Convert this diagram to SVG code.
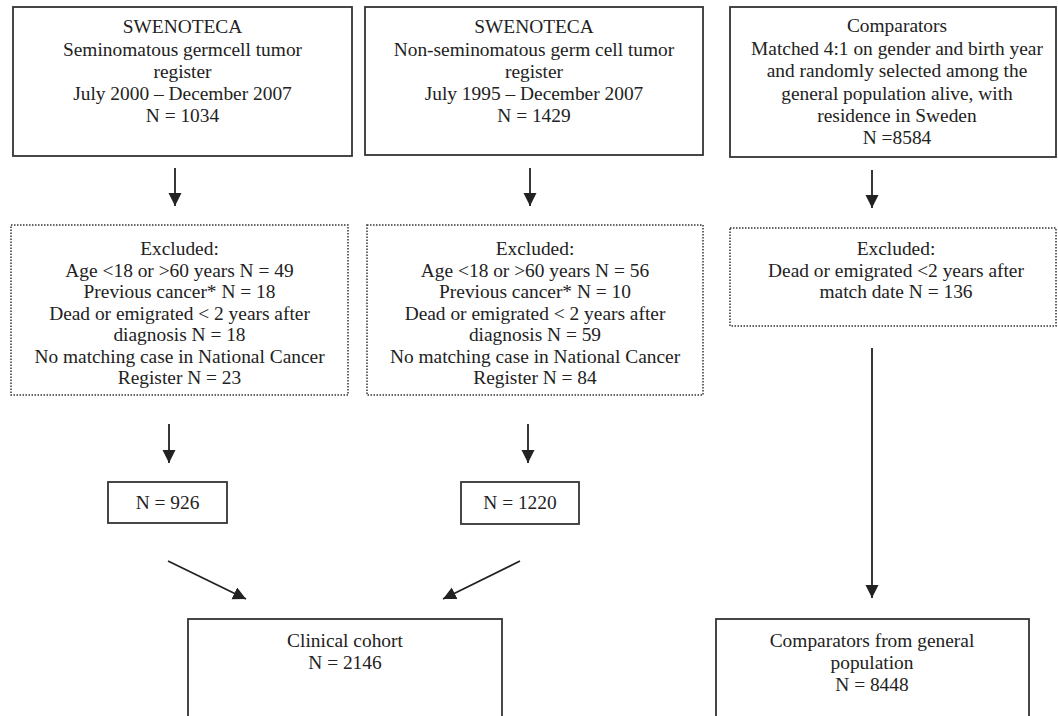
<svg xmlns="http://www.w3.org/2000/svg" width="1058" height="716" viewBox="0 0 1058 716">
<defs>
<style>
text{font-family:"Liberation Serif","Times New Roman",serif;font-size:19.4px;fill:#222;text-anchor:middle}
.box{fill:#fff;stroke:#333;stroke-width:1.8}
.dot{fill:#fff;stroke:#333;stroke-width:1.5;stroke-dasharray:1.5 1.5}
.con{stroke:#222;stroke-width:1.8;fill:none;marker-end:url(#ah)}
</style>
<marker id="ah" markerUnits="userSpaceOnUse" markerWidth="14" markerHeight="14" refX="13" refY="6.5" orient="auto">
<path d="M0,0 L13,6.5 L0,13 z" fill="#222"/>
</marker>
</defs>
<rect width="1058" height="716" fill="#fff"/>
<g id="seminoma">
<rect class="box" x="13" y="7" width="339" height="149"/>
<text x="182.5" y="33">SWENOTECA</text>
<text x="182.5" y="55.5">Seminomatous germcell tumor</text>
<text x="182.5" y="78">register</text>
<text x="182.5" y="100">July 2000 – December 2007</text>
<text x="182.5" y="122">N = 1034</text>
</g>
<g id="nonseminoma">
<rect class="box" x="365" y="7" width="338" height="148"/>
<text x="534" y="33">SWENOTECA</text>
<text x="534" y="55.5">Non-seminomatous germ cell tumor</text>
<text x="534" y="78">register</text>
<text x="534" y="100">July 1995 – December 2007</text>
<text x="534" y="122">N = 1429</text>
</g>
<g id="comparators">
<rect class="box" x="730" y="7" width="326" height="150"/>
<text x="897" y="32">Comparators</text>
<text x="897" y="55">Matched 4:1 on gender and birth year</text>
<text x="897" y="77">and randomly selected among the</text>
<text x="897" y="99.5">general population alive, with</text>
<text x="897" y="121.5">residence in Sweden</text>
<text x="897" y="143.5">N =8584</text>
</g>
<g id="excluded1">
<rect class="dot" x="11" y="225" width="337" height="170"/>
<text x="179.5" y="255">Excluded:</text>
<text x="179.5" y="276.5">Age &lt;18 or &gt;60 years N = 49</text>
<text x="179.5" y="298">Previous cancer* N = 18</text>
<text x="179.5" y="319.5">Dead or emigrated &lt; 2 years after</text>
<text x="179.5" y="341">diagnosis N = 18</text>
<text x="179.5" y="362.5">No matching case in National Cancer</text>
<text x="179.5" y="384">Register N = 23</text>
</g>
<g id="excluded2">
<rect class="dot" x="367" y="225" width="336" height="170"/>
<text x="535" y="255">Excluded:</text>
<text x="535" y="276.5">Age &lt;18 or &gt;60 years N = 56</text>
<text x="535" y="298">Previous cancer* N = 10</text>
<text x="535" y="319.5">Dead or emigrated &lt; 2 years after</text>
<text x="535" y="341">diagnosis N = 59</text>
<text x="535" y="362.5">No matching case in National Cancer</text>
<text x="535" y="384">Register N = 84</text>
</g>
<g id="excluded3">
<rect class="dot" x="730" y="228" width="326" height="98"/>
<text x="896" y="255">Excluded:</text>
<text x="896" y="276.5">Dead or emigrated &lt;2 years after</text>
<text x="896" y="298">match date N = 136</text>
</g>
<g id="n926">
<rect class="box" x="108" y="482" width="119" height="41"/>
<text x="167.5" y="509">N = 926</text>
</g>
<g id="n1220">
<rect class="box" x="461" y="482" width="118" height="42"/>
<text x="520" y="509">N = 1220</text>
</g>
<g id="clinical">
<rect class="box" x="188" y="619" width="314" height="110"/>
<text x="345" y="647">Clinical cohort</text>
<text x="345" y="669">N = 2146</text>
</g>
<g id="general">
<rect class="box" x="716" y="619" width="313" height="110"/>
<text x="872" y="647">Comparators from general</text>
<text x="872" y="669">population</text>
<text x="872" y="691">N = 8448</text>
</g>
<g id="connectors">
<line class="con" x1="175" y1="168" x2="175" y2="206"/>
<line class="con" x1="530" y1="168" x2="530" y2="206"/>
<line class="con" x1="872" y1="170" x2="872" y2="208"/>
<line class="con" x1="169" y1="424" x2="169" y2="463"/>
<line class="con" x1="528" y1="424" x2="528" y2="463"/>
<line class="con" x1="168" y1="561" x2="246" y2="599"/>
<line class="con" x1="520" y1="561" x2="443" y2="599"/>
<line class="con" x1="872" y1="348" x2="872" y2="598"/>
</g>
</svg>
